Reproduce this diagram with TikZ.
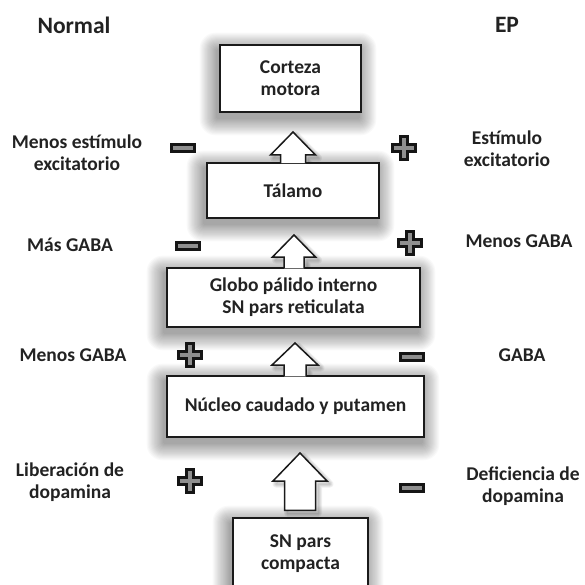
\documentclass[tikz,border=0pt]{standalone}
\usepackage{fontspec}
\setmainfont{Carlito}
\usetikzlibrary{calc}
\pgfdeclarelayer{background}
\pgfsetlayers{background,main}
\definecolor{txt}{HTML}{222222}
\definecolor{edge}{HTML}{1A1A1A}
\definecolor{signedge}{HTML}{151515}
\definecolor{signfill}{HTML}{8F8F8F}
% block arrow path: #1 base, #2 tip, #3 shaft half width, #4 head half width, #5 head length
\newcommand\arrowpath[5]{($(#2 |- #1)+(-#3,1)$) -- ($(#2)+(-#3,#5)$) -- ($(#2)+(-#4,#5)$) -- (#2) -- ($(#2)+(#4,#5)$) -- ($(#2)+(#3,#5)$) -- ($(#2 |- #1)+(#3,1)$)}
\newcommand\boxshadow[1]{\foreach \i in {1,...,16}{\fill[black,opacity=0.024,rounded corners=\i pt] ($(#1.north west)+(-1.1*\i-2,-1.1*\i+6)$) rectangle ($(#1.south east)+(1.1*\i-3,1.1*\i+5)$);}}
\begin{document}
\begin{tikzpicture}[x=1pt,y=-1pt,
  every node/.style={font=\bfseries\fontsize{19.5}{22}\selectfont, text=txt, inner sep=0pt},
  box/.style={draw=edge, line width=1.5pt, fill=white, align=center},
  lbl/.style={align=center},
  title/.style={font=\bfseries\fontsize{23.5}{28}\selectfont},
  arrowshape/.style={draw=edge, line width=1.5pt, fill=white, line join=miter},
  signstyle/.style={draw=signedge, line width=2.8pt, fill=signfill},
  minussign/.pic={\filldraw[signstyle] (-11.5,-3.6) rectangle (11.5,3.6);},
  plussign/.pic={\filldraw[signstyle] (-3.8,-11.5) -- (3.8,-11.5) -- (3.8,-3.8) -- (11.5,-3.8) -- (11.5,3.8) -- (3.8,3.8) -- (3.8,11.5) -- (-3.8,11.5) -- (-3.8,3.8) -- (-11.5,3.8) -- (-11.5,-3.8) -- (-3.8,-3.8) -- cycle;}
]
\clip (0,0) rectangle (584,585);

% titles
\node[title] (tn) at (74,25) {Normal};
\node[title] (tep) at (507,25) {EP};

% boxes
\node[box, minimum width=141pt, minimum height=67pt] (cor) at (290.5,78.5) {Corteza\\motora};
\node[box, minimum width=172pt, minimum height=55pt] (tal) at (293,190.5) {Tálamo};
\node[box, minimum width=253pt, minimum height=59pt] (glo) at (293.5,297.5) {Globo pálido interno\\SN pars reticulata};
\node[box, minimum width=257pt, minimum height=61pt] (nuc) at (295.5,406.5) {Núcleo caudado y putamen};
\node[box, minimum width=135pt, minimum height=72pt] (snc) at (300.5,554) {SN pars\\compacta};

% arrow tips and free base
\coordinate (t1) at (293,132);
\coordinate (t2) at (294,235);
\coordinate (t3) at (295,343);
\coordinate (t4) at (300,453);
\coordinate (b4) at ($(snc.north)+(0,-8)$);

% background and shadows
\begin{pgfonlayer}{background}
  \fill[white] (0,0) rectangle (584,585);
  \boxshadow{cor}
  \boxshadow{tal}
  \boxshadow{glo}
  \boxshadow{nuc}
  \boxshadow{snc}
  \foreach \w in {1,3,5,7}{
    \draw[black, opacity=0.06, line width=\w pt, line join=round, transform canvas={shift={(3pt,-3pt)}}] \arrowpath{tal.north}{t1}{12.5}{22.5}{23};
    \draw[black, opacity=0.06, line width=\w pt, line join=round, transform canvas={shift={(3pt,-3pt)}}] \arrowpath{glo.north}{t2}{10}{21.5}{22};
    \draw[black, opacity=0.06, line width=\w pt, line join=round, transform canvas={shift={(3pt,-3pt)}}] \arrowpath{nuc.north}{t3}{11}{23}{22};
    \draw[black, opacity=0.06, line width=\w pt, line join=round, transform canvas={shift={(3pt,-3pt)}}] \arrowpath{b4}{t4}{15.5}{27}{28} -- cycle;
  }
\end{pgfonlayer}

% block arrows
\filldraw[arrowshape] \arrowpath{tal.north}{t1}{12.5}{22.5}{23};
\filldraw[arrowshape] \arrowpath{glo.north}{t2}{10}{21.5}{22};
\filldraw[arrowshape] \arrowpath{nuc.north}{t3}{11}{23}{22};
\filldraw[arrowshape] \arrowpath{b4}{t4}{15.5}{27}{28} -- cycle;

% left labels
\node[lbl] (l1) at (77,153) {Menos estímulo\\excitatorio};
\node[lbl] (l2) at (70,245) {Más GABA};
\node[lbl] (l3) at (73,355) {Menos GABA};
\node[lbl] (l4) at (70,482) {Liberación de\\dopamina};

% right labels
\node[lbl] (r1) at (507,149) {Estímulo\\excitatorio};
\node[lbl] (r2) at (519,241) {Menos GABA};
\node[lbl] (r3) at (522,355) {GABA};
\node[lbl] (r4) at (523,486) {Deficiencia de\\dopamina};

% signs
\pic at (183,148) {minussign};
\pic at (188,246) {minussign};
\pic at (190,355) {plussign};
\pic at (190,481) {plussign};
\pic at (404,148) {plussign};
\pic at (410,243) {plussign};
\pic at (412,357) {minussign};
\pic at (412,488) {minussign};
\end{tikzpicture}
\end{document}
